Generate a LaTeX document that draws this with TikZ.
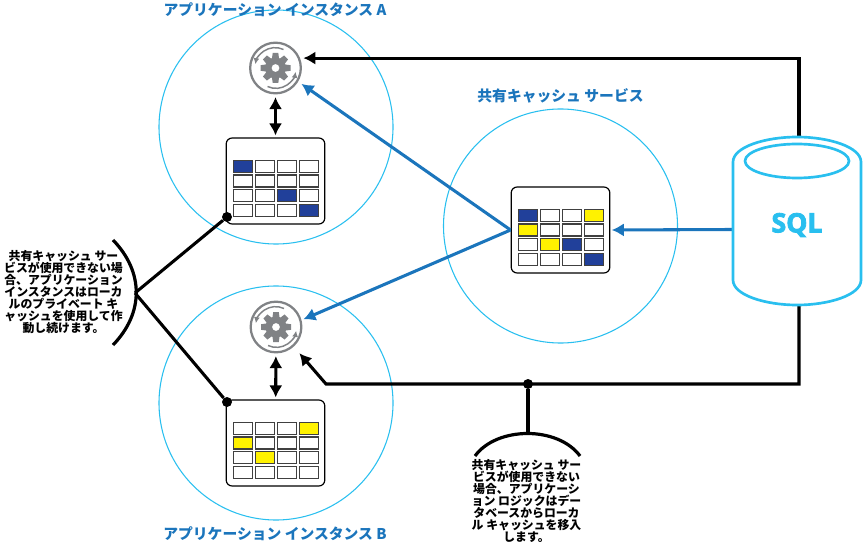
\documentclass[tikz,border=0pt]{standalone}
\usepackage{fontspec}
\usetikzlibrary{arrows.meta}
\newfontfamily\jpfont{Noto Sans CJK JP}
\newfontfamily\sqlfont{Open Sans}[BoldFeatures={FakeBold=3}]
\definecolor{ringCyan}{HTML}{29BFEF}
\definecolor{linkBlue}{HTML}{1B75BC}
\definecolor{cacheNavy}{HTML}{21409A}
\definecolor{cacheYellow}{HTML}{FFF200}
\definecolor{gearGray}{HTML}{808285}
\tikzset{
  >={Latex[length=9pt,width=10pt]},
  ring/.style={circle,draw=ringCyan,line width=.8pt,minimum size=175.5pt,inner sep=0},
  cardbox/.style={draw=black,fill=white,rounded corners=4.5pt,line width=.9pt,minimum width=74pt,minimum height=64.5pt,inner sep=0},
  cell/.style={draw=black!75,line width=.8pt,fill=white},
  gearring/.style={circle,draw=gearGray,line width=1.7pt,minimum size=38pt,inner sep=0},
  blacklink/.style={draw=black,line width=2.3pt},
  bluelink/.style={draw=linkBlue,line width=2.3pt},
  dotnode/.style={circle,fill=black,minimum size=7.5pt,inner sep=0},
  titletext/.style={text=linkBlue,font=\jpfont\bfseries\fontsize{11.1}{13}\selectfont},
  notetext/.style={align=center,font=\jpfont\bfseries\fontsize{8.9}{9}\selectfont},
  gearicon/.pic={
    \foreach \a in {0,45,...,315}
      \fill[gearGray,rotate=\a] (-3.6,9) -- (-2.8,15) -- (2.8,15) -- (3.6,9) -- cycle;
    \fill[gearGray,even odd rule] (0,0) circle (10.5) (0,0) circle (4);
    \draw[gearGray,line width=1.1pt,-{Latex[length=4.5pt,width=4.5pt]}] (8,-18.5) arc(-65:-170:20);
    \draw[gearGray,line width=1.1pt,-{Latex[length=4.5pt,width=4.5pt]}] (-8,18.5) arc(115:10:20);
  }
}
% card cells: column/row/colour of the filled ones
\newcommand{\cachecells}[2]{
  \begin{scope}[shift={(#1.north west)}]
    \foreach \c in {0,...,3}
      \foreach \r in {0,...,3}
        \draw[cell] (8+22*\c,23+14.6*\r) rectangle +(19,12);
    \foreach \c/\r/\col in {#2}
      \draw[cell,fill=\col] (8+22*\c,23+14.6*\r) rectangle +(19,12);
  \end{scope}
}

\begin{document}
\begin{tikzpicture}[x=.75pt,y=-.75pt]
  \useasboundingbox (0,0) rectangle (863,545);
  \node[ring] (circleA) at (276,127) {};
  \node[ring] (circleS) at (560.5,226) {};
  \node[ring] (circleB) at (276,403) {};

  \node[titletext] (titleA) at (275,10) {アプリケーション インスタンス A};
  \node[titletext] (titleS) at (560.5,95.5) {共有キャッシュ サービス};
  \node[titletext] (titleB) at (275,534) {アプリケーション インスタンス B};

  \node[gearring] (gearA) at (275.5,68) {};
  \node[gearring] (gearB) at (276,327) {};
  \pic at (gearA) {gearicon};
  \pic at (gearB) {gearicon};

  \node[cardbox] (cardA) at (275.5,181) {};
  \node[cardbox] (cardS) at (560.5,230) {};
  \node[cardbox] (cardB) at (275.5,443) {};
  \cachecells{cardA}{0/0/cacheNavy,2/2/cacheNavy,3/3/cacheNavy}
  \cachecells{cardS}{0/0/cacheNavy,3/0/cacheYellow,0/1/cacheYellow,1/2/cacheYellow,2/2/cacheNavy,3/3/cacheNavy}
  \cachecells{cardB}{3/0/cacheYellow,0/1/cacheYellow,1/2/cacheYellow}

  \coordinate (sqlTop) at (799,137);
  \coordinate (sqlBottom) at (799,305);
  \coordinate (sqlLeft) at (733,229.5);
  \coordinate (bendB) at (326,384);
  \coordinate (capBottom) at (528,434);
  \coordinate (capLeft) at (135,293);

  \draw[blacklink,->,shorten >=2.5pt] (sqlTop) |- (gearA.22.6);
  \draw[blacklink,->,shorten >=6.5pt] (sqlBottom) |- (bendB) -- (gearB.-48);
  \draw[bluelink,->,shorten >=1pt] (sqlLeft) -- (cardS.east);
  \draw[bluelink,->,shorten >=3pt] (cardS.west) -- (gearA.-31);
  \draw[bluelink,->,shorten >=1.5pt] (cardS.west) -- (gearB.15);
  \draw[blacklink,<->,shorten >=1.5pt,shorten <=2pt] (gearA) -- (cardA);
  \draw[blacklink,<->,shorten >=1.5pt,shorten <=2pt] (gearB) -- (cardB);

  % database
  \draw[draw=ringCyan,fill=white,line width=2pt] (733,162) .. controls (733,147) and (765,137) .. (797,137)
    .. controls (829,137) and (861,147) .. (861,162) -- (861,280)
    .. controls (861,295) and (829,305) .. (797,305)
    .. controls (765,305) and (733,295) .. (733,280) -- cycle;
  \draw[draw=ringCyan,line width=2pt] (797,161) ellipse [x radius=52,y radius=17];
  \node[text=ringCyan,font=\sqlfont\bfseries\fontsize{20}{24}\selectfont] (sqlLabel) at (797,225) {SQL};

  % notes
  \node[dotnode] (dotA) at (227,217) {};
  \node[dotnode] (dotB) at (227,402) {};
  \node[dotnode] (dotBottom) at (528,384) {};
  \draw[blacklink] (capLeft) -- (dotA);
  \draw[blacklink] (capLeft) -- (dotB);
  \draw[blacklink] (dotBottom) -- (capBottom);
  \draw[line width=2.4pt] (113,240) .. controls (144,272) and (144,313) .. (113,345);
  \draw[line width=2.4pt] (475,456) .. controls (497,426) and (558,426) .. (580,456);
  \node[notetext] (noteLeft) at (63.5,292.5) {共有キャッシュ サー\\ビスが使用できない場\\合、アプリケーション\\インスタンスはローカ\\ルのプライベート キ\\ャッシュを使用して作\\動し続けます。};
  \node[notetext] (noteBottom) at (526.5,500.5) {共有キャッシュ サー\\ビスが使用できない\\場合、アプリケーシ\\ョン ロジックはデー\\タベースからローカ\\ル キャッシュを移入\\します。};
\end{tikzpicture}
\end{document}
